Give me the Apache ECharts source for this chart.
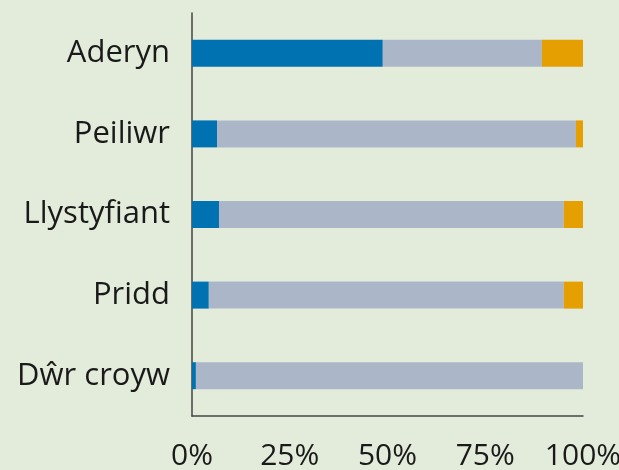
<!DOCTYPE html>
<html>
<head>
<meta charset="utf-8">
<script src="https://cdn.jsdelivr.net/npm/echarts@6/dist/echarts.min.js"></script>
<style>
html,body{margin:0;padding:0;background:#e3ecdb;}
#c{width:619px;height:470px;}
</style>
</head>
<body>
<div id="c"></div>
<script>
const categories = ['Aderyn', 'Peiliwr', 'Llystyfiant', 'Pridd', 'Dŵr croyw'];
const blueValues = [48.8, 6.4, 6.9, 4.3, 1.0];
const grayValues = [40.7, 91.8, 88.2, 90.8, 99.0];
const orangeValues = [10.5, 1.8, 4.9, 4.9, 0];
const xTicks = [0, 25, 50, 75, 100];

const font = 'Open Sans';
const chart = echarts.init(document.getElementById('c'), null, {renderer: 'canvas'});
const mk = (name, data, color) => ({
  name, type: 'bar', stack: 'total', data, barWidth: 27,
  itemStyle: {color}, emphasis: {disabled: true}, animation: false
});
chart.setOption({
  backgroundColor: '#e3ecdb',
  animation: false,
  grid: {left: 192, right: 36, top: 13, bottom: 54, containLabel: false, outerBoundsMode: 'none'},
  xAxis: {
    type: 'value', min: xTicks[0], max: xTicks[xTicks.length - 1], interval: 25,
    axisLine: {show: true, lineStyle: {color: '#444', width: 1.5}},
    axisTick: {show: false},
    splitLine: {show: false},
    axisLabel: {formatter: '{value}%', color: '#1a1a1a', fontSize: 30, fontFamily: font, margin: 25}
  },
  yAxis: {
    type: 'category', data: categories, inverse: true,
    axisLine: {show: true, lineStyle: {color: '#444', width: 1.5}},
    axisTick: {show: false},
    axisLabel: {color: '#1a1a1a', fontSize: 31, fontFamily: font, margin: 22}
  },
  series: [
    mk('blue', blueValues, '#0072b2'),
    mk('gray', grayValues, '#abb7c9'),
    mk('orange', orangeValues, '#e69f00')
  ]
});
</script>
</body>
</html>
